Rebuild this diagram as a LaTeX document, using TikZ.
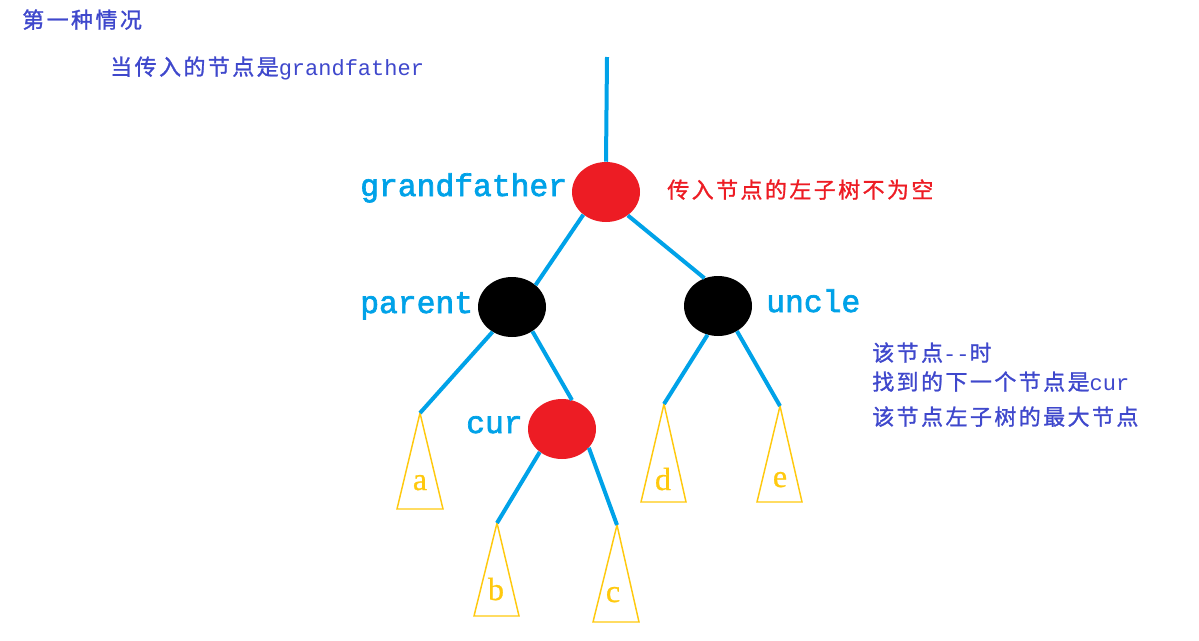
\documentclass[tikz,border=0pt]{standalone}
\usepackage{fontspec}
\usetikzlibrary{shapes.geometric}
\newfontfamily\cjk[LetterSpace=11,FakeBold=1.2]{Noto Sans CJK SC}
\newfontfamily\monof{Liberation Mono}
\newfontfamily\monolab[FakeBold=2.2]{Liberation Mono}
\newfontfamily\serf[FakeBold=0.8]{Liberation Serif}
\definecolor{tcyan}{HTML}{00A2E8}
\definecolor{tred}{HTML}{ED1C24}
\definecolor{tgold}{HTML}{FFC90E}
\definecolor{tblue}{HTML}{3F48CC}
\begin{document}
\begin{tikzpicture}[x=0.75pt,y=-0.75pt,
  rbnode/.style={ellipse, minimum width=51pt, minimum height=45pt, inner sep=0pt},
  rednode/.style={rbnode, fill=tred},
  blacknode/.style={rbnode, fill=black},
  edge/.style={draw=tcyan, line width=3pt},
  tri/.style={draw=tgold, line width=1.1pt, line join=miter},
  lab/.style={text=tcyan, font=\monolab\fontsize{23.5}{25}\selectfont, anchor=base west, inner sep=0pt},
  leaf/.style={text=tgold, font=\serf\fontsize{24}{26}\selectfont, anchor=base, inner sep=0pt},
  note/.style={font=\cjk\fontsize{16.5}{18}\selectfont, anchor=base west, inner sep=0pt},
]
\useasboundingbox (0,0) rectangle (1199,640);

% title texts
\node[note, text=tblue] (t1) at (22,28) {第一种情况};
\node[note, text=tblue] (t2) at (110,75) {当传入的节点是{\monof grandfather}};
\node[note, text=tred] (t3) at (667,198) {传入节点的左子树不为空};
\node[note, text=tblue] (t4) at (872,361) {该节点{\monof --}时};
\node[note, text=tblue] (t5) at (872,390) {找到的下一个节点是{\monof cur}};
\node[note, text=tblue] (t6) at (872,425) {该节点左子树的最大节点};

% tree nodes
\coordinate (top) at (607,57);
\node[rednode] (gf) at (606,192) {};
\node[blacknode] (par) at (512,307) {};
\node[blacknode] (unc) at (718,306) {};
\node[rednode] (cur) at (562,429) {};

\node[lab] (lgf) at (360,196) {grandfather};
\node[lab] (lpar) at (360,313) {parent};
\node[lab] (lunc) at (766,312) {uncle};
\node[lab] (lcur) at (466,433) {cur};

% subtrees
\coordinate (ta) at (420,413);
\coordinate (tb) at (497,523);
\coordinate (tc) at (617,525);
\coordinate (td) at (664,404);
\coordinate (te) at (780,406);
\draw[tri] (ta) -- (397,509) -- (443,509) -- cycle;
\draw[tri] (tb) -- (474,616) -- (519,616) -- cycle;
\draw[tri] (tc) -- (593,622) -- (639,622) -- cycle;
\draw[tri] (td) -- (641,502) -- (686,502) -- cycle;
\draw[tri] (te) -- (757,502) -- (802,502) -- cycle;
\node[leaf] (la) at (420,490) {a};
\node[leaf] (lb) at (496,600) {b};
\node[leaf] (lc) at (613,602) {c};
\node[leaf] (ld) at (663,490) {d};
\node[leaf] (le) at (780,487) {e};

% edges
\draw[edge] (top) -- (gf.north);
\draw[edge] (gf.-135) -- (par.43);
\draw[edge] (gf.-47) -- (unc.116);
\draw[edge] (par.-128) -- (ta);
\draw[edge] (par.-50) -- (cur.71);
\draw[edge] (unc.-110) -- (td);
\draw[edge] (unc.-53) -- (te);
\draw[edge] (cur.-134) -- (tb);
\draw[edge] (cur.-35) -- (tc);
\end{tikzpicture}
\end{document}
